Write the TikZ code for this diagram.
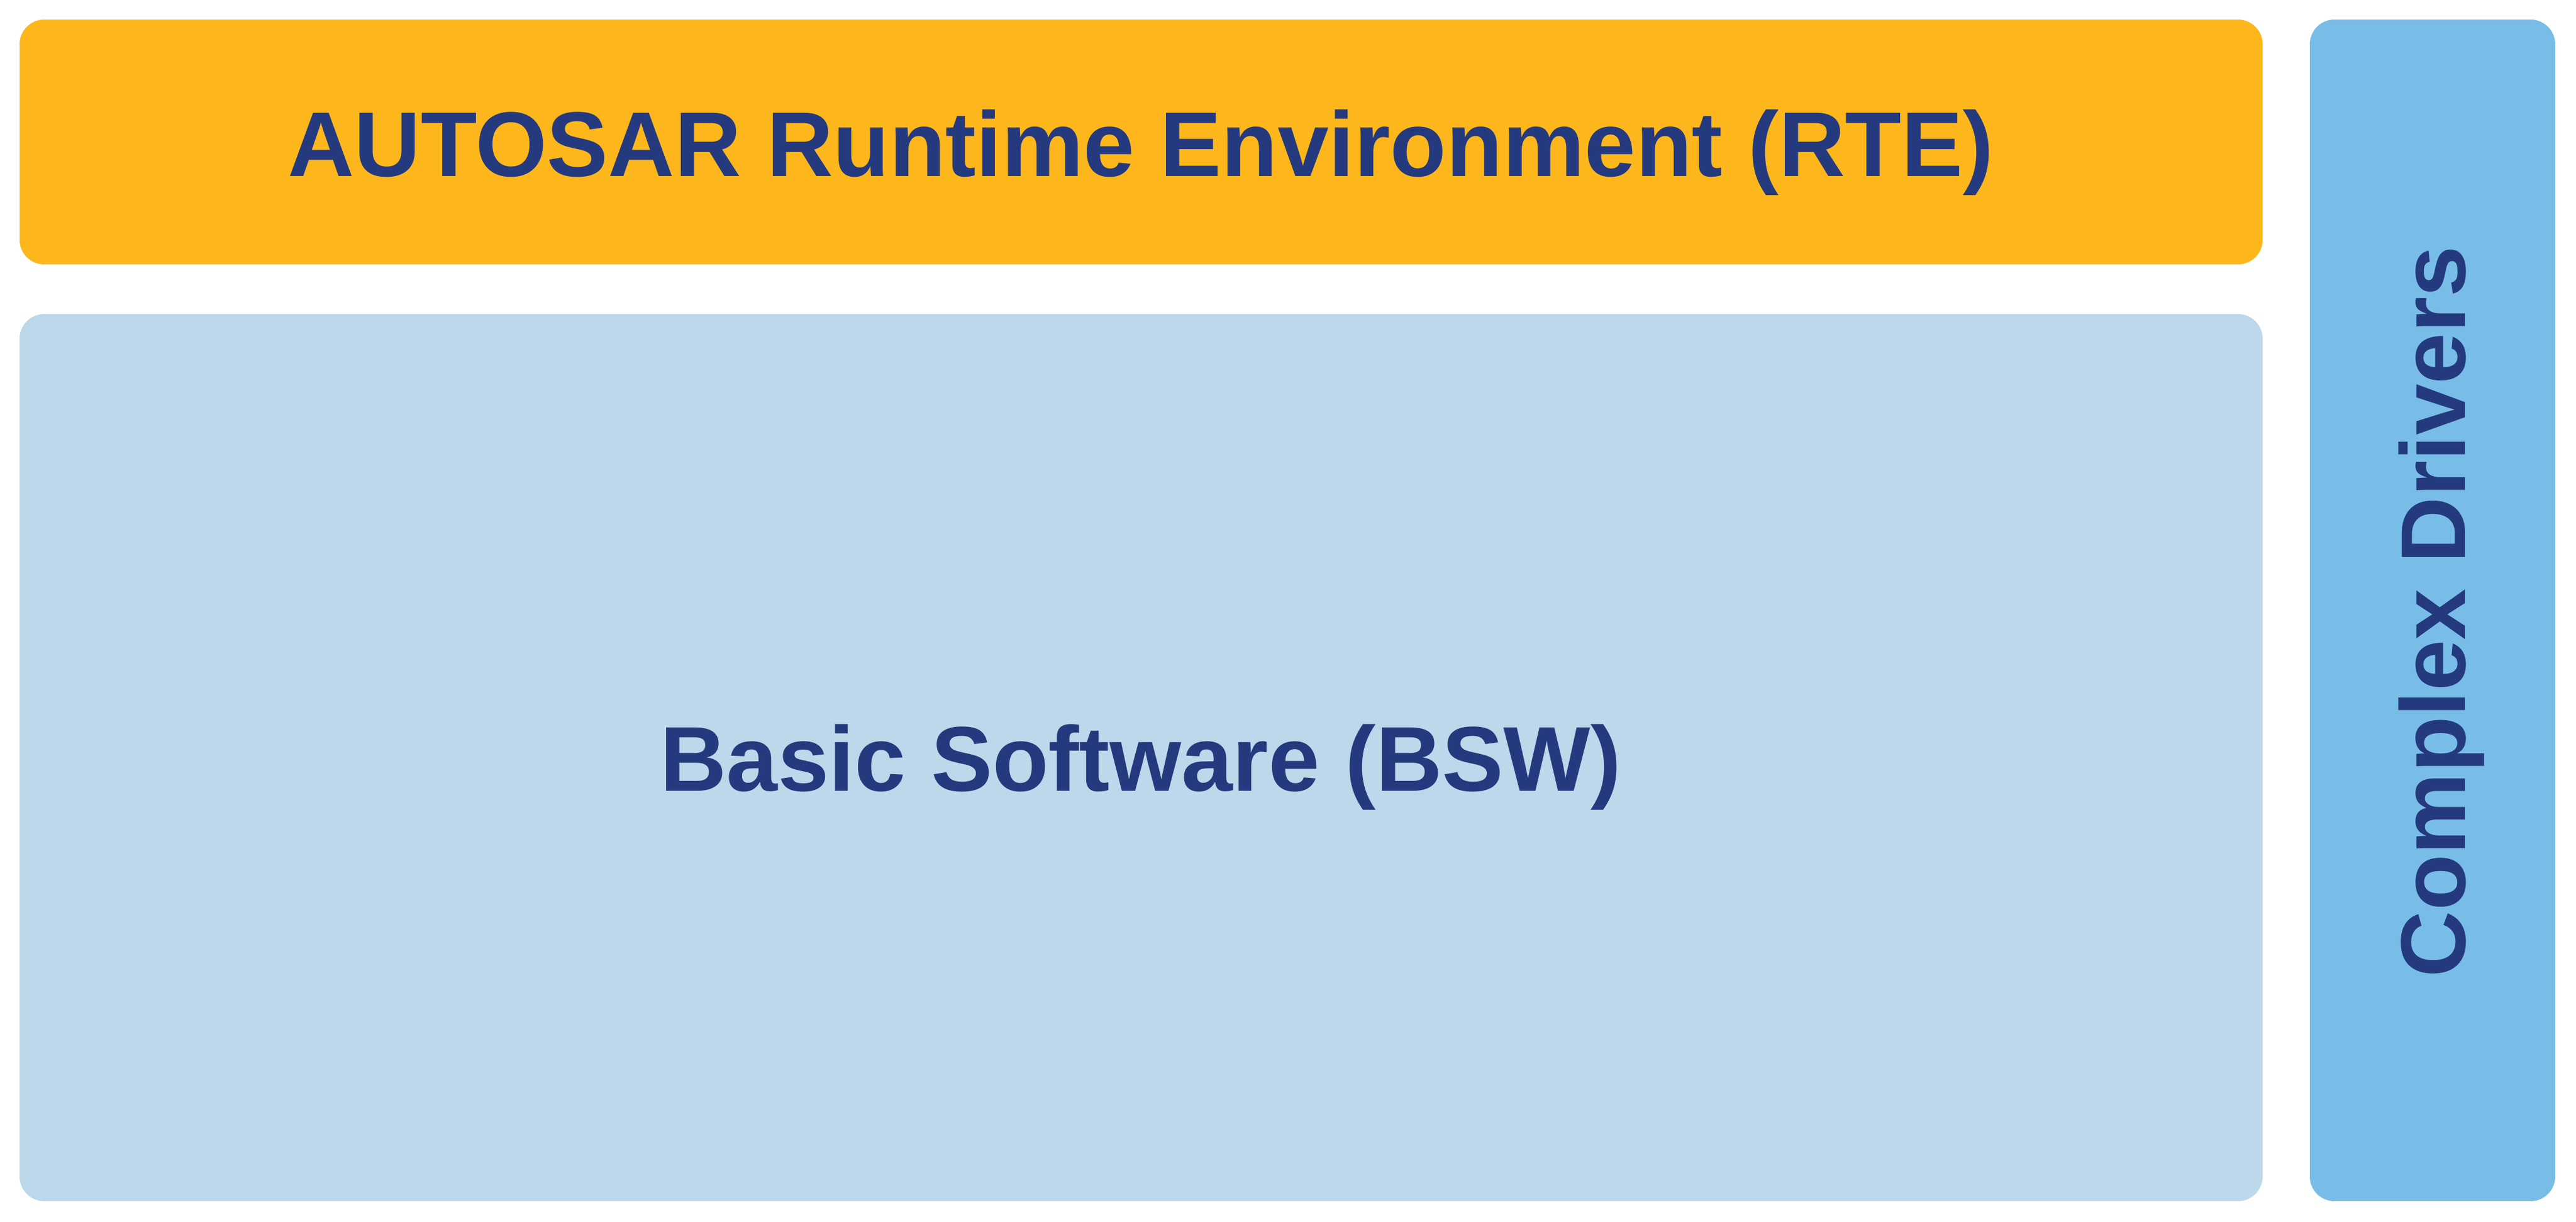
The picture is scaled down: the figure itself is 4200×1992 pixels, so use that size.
\documentclass[tikz,border=0pt]{standalone}
\usepackage{fontspec}
\setmainfont{Liberation Sans}
\definecolor{rteorange}{HTML}{FDB71C}
\definecolor{bswblue}{HTML}{BCD8EA}
\definecolor{cdblue}{HTML}{78BDE8}
\definecolor{txtblue}{HTML}{253A7E}
\tikzset{
  layerbox/.style={rounded corners=10pt, inner sep=0pt, draw=none},
  layertext/.style={text=txtblue, font=\fontsize{37.5}{40}\selectfont\bfseries, inner sep=0pt, anchor=base}
}
\begin{document}
\begin{tikzpicture}[x=0.25pt,y=0.25pt]
\useasboundingbox[fill=white] (0,0) rectangle (4200,1992);
\path[layerbox, fill=rteorange] (32,1561) rectangle (3689,1960) coordinate (rtetr);
\path[layerbox, fill=bswblue] (32,34) rectangle (3689,1480);
\path[layerbox, fill=cdblue] (3766,34) rectangle (4166,1960);
\node[layertext] (rte) at (1860,1704) {AUTOSAR Runtime Environment (RTE)};
\node[layertext] (bsw) at (1860,702) {Basic Software (BSW)};
\node[layertext, rotate=90] (cd) at (4019,995) {Complex Drivers};
\end{tikzpicture}
\end{document}
